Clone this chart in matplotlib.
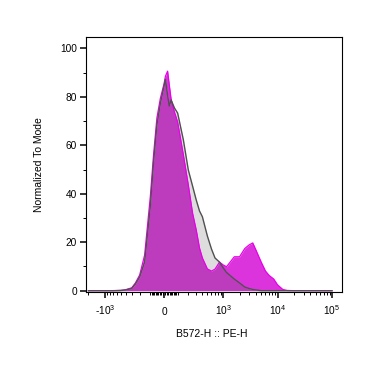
import matplotlib
matplotlib.use("Agg")
import matplotlib.pyplot as plt
import numpy as np

plt.rcParams['font.family'] = ['Liberation Sans', 'DejaVu Sans']
plt.rcParams['mathtext.fontset'] = 'custom'
plt.rcParams['mathtext.rm'] = 'Liberation Sans'
plt.rcParams['mathtext.default'] = 'regular'

# histogram bins on the B572-H :: PE-H channel
pe_h = [-2000, -1500, -1000, -700, -500, -400, -300, -250, -200, -150,
        -100, -75, -50, -25, 0, 10, 25, 37, 50, 75,
        100, 150, 200, 250, 300, 350, 400, 500, 600, 700,
        850, 1000, 1150, 1300, 1600, 2000, 2500, 3000, 3500, 4000,
        5000, 6000, 7000, 8500, 10000, 12500, 15000, 20000, 30000, 50000,
        100000]

# normalized to mode, control (grey)
control = [0, 0, 0, 0, 0.1, 0.3, 0.9, 2.8, 5.7, 11.8,
           35, 53, 68.4, 77.4, 84.4, 87.3, 80.7, 76.2, 78.7, 75.4,
           73.3, 62.2, 49.8, 43.2, 37.4, 32.9, 30.5, 22.6, 17.2, 13.5,
           11.8, 9.4, 7.5, 6.5, 4.8, 3.2, 1.5, 0.9, 0.5, 0.3,
           0, 0, 0, 0, 0, 0, 0, 0, 0, 0,
           0]

# normalized to mode, stained sample (magenta)
stained = [0, 0, 0, 0, 0.1, 0.4, 1.2, 3.2, 6.5, 14.7,
           39, 56, 71.3, 79.5, 85.3, 88.5, 90.6, 84.9, 79, 73.7,
           69.6, 56, 43.6, 32, 25, 17.6, 13.5, 9, 8.1, 8.9,
           11.8, 10.6, 9.9, 11.4, 14, 14, 17.4, 18.9, 19.7, 16.8,
           11.8, 8.1, 6.3, 4.8, 2.4, 0.5, 0.1, 0, 0, 0,
           0]

x_ticks = [-1000, 0, 1000, 10000, 100000]
x_tick_labels = ['-$10^3$', '0', '$10^3$', '$10^4$', '$10^5$']
y_ticks = [0, 20, 40, 60, 80, 100]

# biexponential-like display: linear near zero, log further out
W = 164.0
def fwd(v):
    return np.arcsinh(np.asarray(v, dtype=float) / W)
def inv(t):
    return W * np.sinh(np.asarray(t, dtype=float))

fig = plt.figure(figsize=(3.92, 3.66), dpi=100)
ax = fig.add_axes([86 / 392, 1 - 292 / 366, 256 / 392, 255 / 366])
ax.set_xscale('function', functions=(fwd, inv))

g = np.array(control)
m = np.array(stained)
both = np.minimum(g, m)

ax.fill_between(pe_h, 0, g, color='#dddddd', lw=0)
ax.fill_between(pe_h, 0, both, color='#bd3cbd', lw=0)
ax.fill_between(pe_h, both, m, color='#dc34dc', lw=0)
ax.plot(pe_h, m, color='#e800e8', lw=0.9)
ax.plot(pe_h, g, color='#505050', lw=1.0)

ax.set_xlim(-2219, 152670)
ax.set_ylim(-0.54, 104.7)

minor = [s * k * 10 ** e for s in (-1, 1) for e in (1, 2, 3, 4) for k in range(1, 10)]
minor = [v for v in minor if -2219 < v < 152670 and v not in x_ticks]
ax.set_xticks(x_ticks)
ax.set_xticklabels(x_tick_labels)
ax.set_xticks(minor, minor=True)
ax.set_yticks(y_ticks)
ax.set_yticks(range(10, 101, 20), minor=True)

for sp in ax.spines.values():
    sp.set_linewidth(0.8)
ax.tick_params(which='major', direction='out', length=4.3, width=1.1, labelsize=7.3)
ax.tick_params(which='minor', direction='out', length=2.3, width=0.7)
ax.tick_params(axis='y', which='major', pad=2.2)
ax.tick_params(axis='x', which='major', pad=12.5)
plt.setp(ax.get_xticklabels(), va='baseline')

ax.set_xlabel('B572-H :: PE-H', fontsize=7.5)
ax.xaxis.set_label_coords(0.49, -0.145)
ax.set_ylabel('Normalized To Mode', fontsize=7.5)
ax.yaxis.set_label_coords(-0.165, 0.5)

fig.savefig('out.png', dpi=100)
